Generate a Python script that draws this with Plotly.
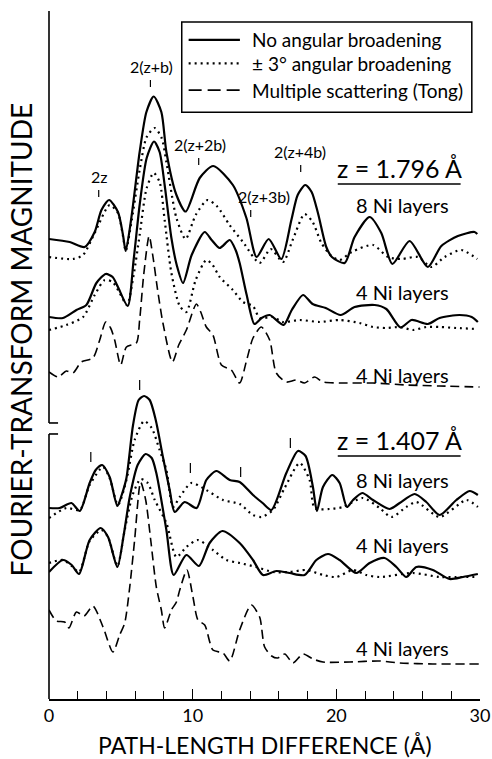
import plotly.graph_objects as go

# ---------------- data (x: path-length difference in Å, y: FT magnitude, arbitrary units, curves stacked) -------------
# z = 1.796 Å, 8 Ni layers, no angular broadening
u8_solid_x = [0.0, 1.44, 2.48, 3.18, 3.65, 4.18, 4.80, 5.15, 5.34, 5.73, 6.31, 6.78, 7.29, 7.82, 8.17, 8.87, 9.51,
              10.49, 11.43, 12.80, 13.74, 14.45, 15.29, 16.17, 16.87, 17.31, 17.84, 18.28, 18.72, 19.30, 19.69, 20.58,
              21.27, 22.32, 23.13, 23.90, 25.10, 26.37, 27.31, 28.46, 29.62, 29.81]
u8_solid_y = [46.0, 45.7, 45.2, 46.7, 48.9, 49.9, 48.7, 46.4, 44.8, 48.1, 54.7, 58.7, 60.25, 58.7, 54.7, 50.4, 48.75,
              52.1, 53.3, 51.4, 48.1, 44.2, 46.0, 44.0, 47.9, 50.4, 51.4, 50.7, 48.6, 45.2, 44.2, 43.6,
              46.2, 48.2, 46.6, 43.5, 45.8, 43.2, 45.3, 46.3, 46.7, 46.5]
# z = 1.796 Å, 8 Ni layers, ±3° angular broadening
u8_dot_x = [0.0, 1.67, 2.37, 3.18, 4.22, 4.80, 5.15, 5.34, 5.76, 6.31, 6.80, 7.36, 7.84, 8.17, 8.87, 9.51, 10.21,
            11.04, 11.74, 12.57, 13.50, 14.66, 15.43, 16.29, 16.96, 17.79, 18.35, 18.96, 19.65, 20.23, 21.07, 22.55,
            23.59, 24.52, 25.68, 26.61, 27.54, 28.70, 29.81]
u8_dot_y = [44.2, 44.0, 44.4, 46.6, 49.4, 48.6, 46.3, 44.8, 47.9, 52.9, 56.2, 57.1, 56.1, 53.7, 48.1, 46.0, 48.4,
            49.9, 49.2, 47.4, 45.7, 43.6, 45.0, 43.7, 45.9, 48.5, 47.7, 45.6, 44.3, 43.9, 44.7, 45.4,
            44.2, 44.0, 44.2, 43.2, 44.2, 44.9, 44.0]
# z = 1.796 Å, 4 Ni layers, no angular broadening
u4_solid_x = [0.0, 0.97, 1.91, 2.60, 3.30, 3.95, 4.43, 4.80, 5.48, 5.89, 6.31, 6.80, 7.31, 7.70, 8.05, 8.52, 8.89,
              9.33, 9.93, 10.84, 11.32, 11.88, 12.58, 12.99, 13.27, 13.76, 14.30, 14.80, 15.36, 16.33, 16.90, 17.68,
              18.35, 19.26, 20.30, 21.27, 22.67, 23.48, 24.47, 25.24, 26.37, 27.19, 28.58, 29.42, 29.85]
u4_solid_y = [38.2, 38.1, 38.9, 39.4, 41.6, 42.5, 42.2, 41.2, 39.3, 43.9, 49.4, 54.1, 55.75, 54.7, 51.4, 46.1, 43.4,
              41.6, 44.4, 46.7, 45.9, 45.1, 45.9, 44.9, 43.6, 40.4, 37.5, 38.1, 38.4, 37.4, 38.9, 40.4,
              39.5, 39.1, 38.4, 39.2, 39.4, 39.0, 37.15, 37.9, 37.5, 38.1, 38.4, 38.2, 37.7]
# z = 1.796 Å, 4 Ni layers, ±3° angular broadening
u4_dot_x = [0.0, 1.21, 2.37, 3.18, 3.88, 4.43, 4.92, 5.43, 5.89, 6.31, 6.80, 7.29, 7.70, 8.05, 8.52, 9.10, 9.56,
            10.21, 10.95, 11.39, 11.88, 12.80, 13.50, 14.20, 14.66, 15.59, 16.28, 17.45, 18.84, 20.23, 21.62, 22.55,
            23.48, 24.41, 25.33, 26.26, 27.19, 28.35, 29.85]
u4_dot_y = [36.9, 37.4, 38.2, 40.4, 41.9, 41.7, 40.6, 39.4, 42.4, 46.4, 51.1, 52.6, 51.7, 47.9, 42.6, 39.3, 38.7,
            41.9, 43.9, 43.4, 42.2, 40.9, 39.7, 39.3, 38.1, 38.2, 37.7, 37.9, 37.7, 37.9, 37.6, 37.2,
            37.1, 37.2, 36.9, 37.2, 37.2, 37.1, 37.0]
# z = 1.796 Å, 4 Ni layers, multiple scattering (Tong)
u4_ms_x = [0.0, 0.63, 1.21, 1.67, 2.25, 3.06, 3.53, 3.95, 4.29, 4.57, 4.99, 5.39, 6.08, 6.31, 6.59, 6.97, 7.24, 7.56,
           7.93, 8.59, 9.03, 9.56, 10.26, 10.56, 10.95, 11.41, 12.00, 12.69, 13.27, 13.76, 14.20, 14.78, 15.36,
           15.82, 16.52, 17.22, 17.79, 18.49, 19.07, 20.23, 22.55, 24.87, 27.19, 29.97]
u4_ms_y = [32.7, 32.2, 32.8, 32.6, 33.7, 34.1, 35.9, 37.7, 37.1, 35.9, 33.4, 35.2, 35.6, 37.9, 42.4, 46.3, 44.2, 40.9,
           37.6, 33.7, 35.4, 36.9, 39.5, 38.7, 37.2, 36.4, 33.4, 32.9, 31.6, 33.9, 36.1, 37.2, 35.9,
           32.6, 31.7, 31.9, 31.6, 32.2, 31.7, 31.6, 31.6, 31.4, 31.3, 31.2]

# z = 1.407 Å, 8 Ni layers, no angular broadening
l8_solid_x = [0.0, 0.74, 1.56, 2.14, 2.83, 3.25, 3.70, 4.22, 4.76, 5.06, 5.39, 5.85, 6.24, 6.62, 7.01, 7.43, 7.93,
              8.40, 8.75, 9.44, 10.28, 10.95, 11.65, 12.58, 13.27, 14.20, 14.87, 15.48, 16.52, 17.33, 17.86, 18.37,
              18.65, 19.07, 19.72, 20.23, 20.74, 21.16, 21.81, 22.55, 23.71, 24.41, 25.45, 26.26, 27.19, 28.35,
              29.28, 29.85]
l8_solid_y = [19.1, 19.1, 19.6, 18.8, 21.6, 22.9, 23.4, 22.2, 19.3, 20.4, 22.1, 27.4, 29.9, 30.3, 29.9, 27.9, 24.2,
              20.9, 18.7, 19.7, 19.1, 21.9, 22.8, 21.9, 21.7, 20.4, 19.6, 18.9, 22.6, 24.8, 24.3, 21.2,
              18.8, 21.2, 22.4, 21.6, 19.2, 19.9, 20.6, 19.9, 19.0, 19.6, 20.5, 19.7, 18.4, 19.9,
              20.8, 20.4]
# z = 1.407 Å, 8 Ni layers, ±3° angular broadening
l8_dot_x = [0.0, 1.21, 2.14, 2.83, 3.76, 4.22, 4.80, 5.39, 5.96, 6.62, 7.15, 7.70, 8.17, 8.63, 9.10, 9.91, 10.95,
            12.11, 13.27, 14.20, 14.78, 15.59, 16.40, 17.45, 18.14, 18.49, 19.53, 20.46, 21.85, 23.01, 23.83, 24.87,
            25.57, 27.19, 29.05, 29.85]
l8_dot_y = [18.1, 19.1, 18.9, 21.4, 23.2, 22.1, 19.4, 21.9, 25.9, 27.8, 27.1, 24.9, 22.9, 19.2, 20.2, 21.6, 20.9,
            19.9, 19.5, 18.4, 18.2, 18.9, 21.1, 23.6, 21.9, 19.1, 19.0, 19.2, 20.1, 19.1, 18.2, 19.2,
            19.7, 18.2, 19.9, 19.2]
# z = 1.407 Å, 4 Ni layers, no angular broadening
l4_solid_x = [0.0, 0.97, 1.58, 2.09, 2.83, 3.60, 4.11, 4.76, 5.20, 5.62, 6.17, 6.73, 7.15, 7.47, 8.17, 8.68, 9.56,
              10.44, 11.18, 12.07, 13.27, 14.20, 14.89, 15.82, 16.75, 17.79, 18.61, 19.42, 20.23, 21.39, 22.32,
              23.36, 24.18, 24.87, 25.57, 26.72, 27.88, 28.81, 29.85]
l4_solid_y = [12.7, 13.9, 13.4, 12.5, 15.9, 17.1, 16.2, 13.2, 16.4, 20.2, 23.4, 24.5, 24.1, 22.6, 16.9, 12.4, 14.4,
              13.3, 15.6, 16.8, 15.6, 13.9, 12.4, 12.8, 12.6, 12.4, 13.9, 14.5, 13.9, 12.6, 13.6,
              14.1, 13.2, 12.2, 13.2, 12.9, 12.0, 12.2, 12.5]
# z = 1.407 Å, 4 Ni layers, ±3° angular broadening
l4_dot_x = [0.0, 0.97, 1.58, 2.09, 2.83, 3.65, 4.11, 4.76, 5.27, 5.82, 6.38, 6.87, 7.36, 8.17, 8.87, 9.56, 10.37,
            11.41, 12.34, 13.27, 14.43, 15.59, 16.75, 17.91, 19.07, 20.00, 21.16, 22.09, 23.01, 25.33, 27.19, 28.35,
            29.85]
l4_dot_y = [13.6, 13.9, 13.3, 12.7, 15.8, 16.9, 16.2, 13.3, 16.9, 20.4, 22.0, 21.6, 19.9, 17.6, 14.2, 15.2, 15.9,
            14.9, 13.9, 13.6, 13.2, 12.7, 12.7, 12.9, 12.4, 12.2, 12.9, 12.4, 12.2, 12.6, 12.2, 12.2,
            12.2]
# z = 1.407 Å, 4 Ni layers, multiple scattering (Tong)
l4_ms_x = [0.0, 0.51, 1.09, 1.39, 1.91, 2.44, 3.06, 3.76, 4.45, 4.92, 5.27, 5.62, 5.96, 6.38, 6.73, 7.08, 7.47, 7.82,
           8.05, 8.52, 8.87, 9.10, 9.60, 10.02, 10.37, 10.84, 11.41, 12.11, 12.58, 13.27, 14.08, 14.66, 15.01,
           15.50, 15.92, 16.41, 16.98, 17.68, 18.37, 19.07, 20.93, 23.01, 24.41, 26.72, 29.97]
l4_ms_y = [8.9, 7.8, 7.7, 7.1, 8.7, 8.3, 9.3, 7.2, 4.7, 6.4, 7.6, 11.2, 15.9, 21.7, 19.9, 15.9, 11.2, 8.9,
           7.1, 8.9, 9.7, 10.9, 12.9, 10.2, 7.9, 7.4, 4.9, 4.6, 3.8, 6.9, 9.4, 8.2, 5.2,
           4.3, 4.1, 4.5, 3.6, 4.5, 4.0, 3.7, 3.7, 3.8, 3.6, 3.5, 3.5]

# peak labels (upper set) and plain marker ticks (lower set)
upper_labels = ["2z", "2(z+b)", "2(z+2b)", "2(z+3b)", "2(z+4b)"]
upper_tick_x = [3.46, 7.06, 10.42, 14.04, 17.52]
upper_tick_top = [50.9, 61.9, 54.1, 48.9, 53.4]
upper_text_x = [3.49, 7.13, 10.53, 14.95, 17.45]
lower_tick_x = [2.91, 6.31, 9.84, 13.34, 16.80]
lower_tick_top = [24.7, 31.9, 23.6, 23.2, 26.1]

panel_titles = ["z = 1.796 Å", "z = 1.407 Å"]
panel_title_y = [53.1, 25.9]
layer_labels = ["8 Ni layers", "4 Ni layers", "4 Ni layers", "8 Ni layers", "4 Ni layers", "4 Ni layers"]
layer_label_y = [49.4, 40.7, 32.4, 21.9, 15.4, 5.1]

legend_names = ["No angular broadening", "± 3° angular broadening", "Multiple scattering (Tong)"]

# ---------------- figure -------------
FONT = "Lato"
solid = dict(color="black", width=2.2, shape="spline", smoothing=0.7)
dotted = dict(color="black", width=2.2, dash="2px,4px", shape="spline", smoothing=0.7)
dashed = dict(color="black", width=1.6, dash="9px,5px", shape="spline", smoothing=0.7)

fig = go.Figure()
series = [
    (u8_solid_x, u8_solid_y, solid, legend_names[0]),
    (u8_dot_x, u8_dot_y, dotted, legend_names[1]),
    (u4_ms_x, u4_ms_y, dashed, legend_names[2]),
    (u4_solid_x, u4_solid_y, solid, legend_names[0]),
    (u4_dot_x, u4_dot_y, dotted, legend_names[1]),
    (l8_solid_x, l8_solid_y, solid, legend_names[0]),
    (l8_dot_x, l8_dot_y, dotted, legend_names[1]),
    (l4_solid_x, l4_solid_y, solid, legend_names[0]),
    (l4_dot_x, l4_dot_y, dotted, legend_names[1]),
    (l4_ms_x, l4_ms_y, dashed, legend_names[2]),
]
for xs, ys, ln, name in series:
    fig.add_trace(go.Scatter(x=xs, y=ys, mode="lines", line=ln, name=name,
                             showlegend=False, hoverinfo="skip"))

annotations = []
shapes = []
for lab, tx, tt, txx in zip(upper_labels, upper_tick_x, upper_tick_top, upper_text_x):
    shapes.append(dict(type="line", xref="x", yref="y", x0=tx, x1=tx, y0=tt - 0.7, y1=tt,
                       line=dict(color="black", width=1.2)))
    annotations.append(dict(x=txx, y=tt + 1.4, xref="x", yref="y", text=lab, showarrow=False,
                            font=dict(size=16, family=FONT, color="black"), xanchor="center", yanchor="middle"))
for tx, tt in zip(lower_tick_x, lower_tick_top):
    shapes.append(dict(type="line", xref="x", yref="y", x0=tx, x1=tx, y0=tt - 1.0, y1=tt,
                       line=dict(color="black", width=1.2)))

for t, ty in zip(panel_titles, panel_title_y):
    annotations.append(dict(x=24.4, y=ty, xref="x", yref="y", text=t, showarrow=False,
                            font=dict(size=25, family=FONT, color="black"), xanchor="center", yanchor="middle"))
    shapes.append(dict(type="line", xref="x", yref="y", x0=20.1, x1=28.65, y0=ty - 1.6, y1=ty - 1.6,
                       line=dict(color="black", width=1.5)))
for t, ty in zip(layer_labels, layer_label_y):
    annotations.append(dict(x=24.6, y=ty, xref="x", yref="y", text=t, showarrow=False,
                            font=dict(size=20, family=FONT, color="black"), xanchor="center", yanchor="middle"))

# hand-drawn legend box (paper coordinates)
shapes.append(dict(type="rect", xref="paper", yref="paper", x0=0.308, x1=0.981, y0=0.853, y1=0.984,
                   line=dict(color="black", width=1.5), fillcolor="white"))
leg_y = [0.958, 0.924, 0.885]
leg_styles = [dict(color="black", width=2.2),
              dict(color="black", width=2.2, dash="2px,4px"),
              dict(color="black", width=1.6, dash="13px,6px")]
for name, ly, st in zip(legend_names, leg_y, leg_styles):
    shapes.append(dict(type="line", xref="paper", yref="paper", x0=0.324, x1=0.443, y0=ly, y1=ly, line=st))
    annotations.append(dict(x=0.466, y=ly, xref="paper", yref="paper", text=name, showarrow=False,
                            font=dict(size=19, family=FONT, color="black"), xanchor="left", yanchor="middle"))

# axis titles
annotations.append(dict(x=-0.066, y=0.522, xref="paper", yref="paper", text="FOURIER-TRANSFORM MAGNITUDE",
                        textangle=-90, showarrow=False, font=dict(size=28, family=FONT, color="black"),
                        xanchor="center", yanchor="middle"))
annotations.append(dict(x=0.501, y=-0.067, xref="paper", yref="paper", text="PATH-LENGTH DIFFERENCE (Å)",
                        showarrow=False, font=dict(size=23, family=FONT, color="black"),
                        xanchor="center", yanchor="middle"))

# broken left axis
ax = dict(color="black", width=1.6)
shapes += [
    dict(type="line", xref="paper", yref="paper", x0=0, x1=0, y0=0.4012, y1=1.0, line=ax),
    dict(type="line", xref="paper", yref="paper", x0=0, x1=0.021, y0=0.4012, y1=0.4012, line=ax),
    dict(type="line", xref="paper", yref="paper", x0=0, x1=0, y0=0.0, y1=0.3852, line=ax),
    dict(type="line", xref="paper", yref="paper", x0=0, x1=0.021, y0=0.3852, y1=0.3852, line=ax),
]

fig.update_layout(
    width=492, height=759,
    margin=dict(l=49, r=12, t=11, b=60, autoexpand=False),
    paper_bgcolor="white", plot_bgcolor="white",
    font=dict(family=FONT, color="black"),
    showlegend=False,
    xaxis=dict(range=[0, 30], automargin=False, showgrid=False, zeroline=False, showline=True,
               linecolor="black", linewidth=1.6,
               ticks="inside", ticklen=10, tickwidth=1.2, tickcolor="black", tickvals=[0, 10, 20, 30],
               tickfont=dict(size=18, family=FONT, color="black"),
               minor=dict(ticks="inside", ticklen=8, dtick=2, tickwidth=1.2, tickcolor="black", showgrid=False)),
    yaxis=dict(range=[0, 68.8], automargin=False, visible=False, showgrid=False, zeroline=False),
    annotations=annotations,
    shapes=shapes,
)

fig.write_html("out.html", config={"displayModeBar": False},
               post_script="document.body.style.margin='0';document.body.style.overflow='hidden';")
